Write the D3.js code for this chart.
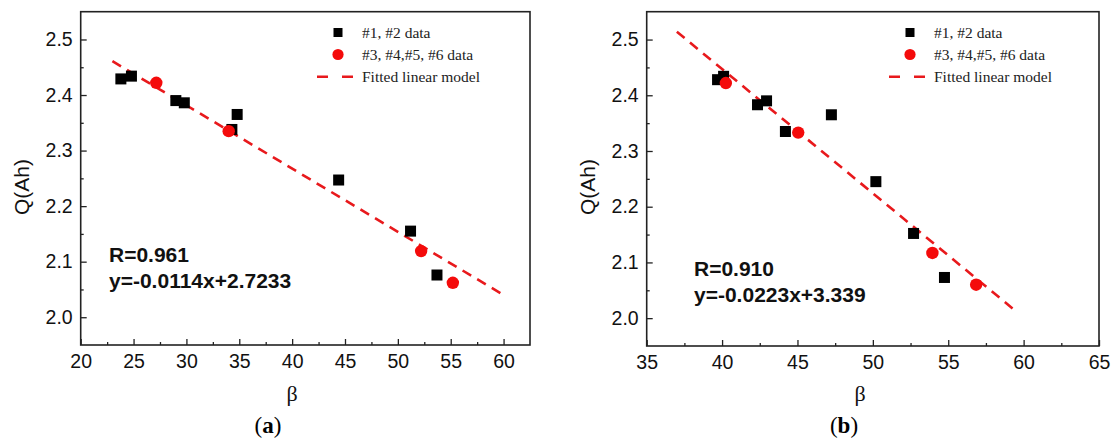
<!DOCTYPE html>
<html lang="en">
<head>
    <meta charset="UTF-8">
    <title>Q vs beta</title>
    <script src="https://cdnjs.cloudflare.com/ajax/libs/d3/7.8.5/d3.min.js"></script>
    <style>
        body { margin: 0; background: white; }
        svg { display: block; }
        .tick text { font-family: "Liberation Sans", Arial, sans-serif; font-size: 19.5px; fill: #111; }
        .tick line { stroke: #222; stroke-width: 1.3px; }
        .frame { fill: none; stroke: #222; stroke-width: 1.6px; }
        .legend text { font-family: "Liberation Serif", "Times New Roman", serif; font-size: 15.5px; fill: #222; }
        .fit { fill: none; stroke: #e8191c; stroke-width: 2.6px; stroke-dasharray: 10,7; }
    </style>
</head>
<body>
    <svg id="chart" width="1115" height="439"></svg>

    <script>
        // panel (a)
        const blackA_x = [23.8, 24.8, 29.0, 29.8, 34.3, 34.8, 44.4, 51.2, 53.7];
        const blackA_y = [2.429, 2.434, 2.390, 2.386, 2.338, 2.365, 2.247, 2.155, 2.076];
        const redA_x = [27.15, 34.0, 52.2, 55.2];
        const redA_y = [2.422, 2.335, 2.119, 2.062];
        const fitA_x = [23, 60];
        const fitA_y = [2.461, 2.040];

        // panel (b)
        const blackB_x = [39.7, 40.1, 42.35, 42.95, 44.2, 47.25, 50.2, 52.7, 54.75];
        const blackB_y = [2.428, 2.434, 2.383, 2.390, 2.335, 2.365, 2.245, 2.152, 2.073];
        const redB_x = [40.25, 45.05, 53.95, 56.85];
        const redB_y = [2.422, 2.333, 2.117, 2.060];
        const fitB_x = [37, 59.6];
        const fitB_y = [2.514, 2.010];

        const xTicksA = [20, 25, 30, 35, 40, 45, 50, 55, 60];
        const xTicksB = [35, 40, 45, 50, 55, 60, 65];
        const yTicks = [2.0, 2.1, 2.2, 2.3, 2.4, 2.5];
        const legendLabels = ["#1, #2 data", "#3, #4,#5, #6 data", "Fitted linear model"];

        const svg = d3.select("#chart");

        function zip(xs, ys) {
            return xs.map((x, i) => [x, ys[i]]);
        }

        function drawPanel(p) {
            const x = d3.scaleLinear().domain(p.xDomain).range([p.left, p.right]);
            const y = d3.scaleLinear().domain([1.95, 2.55]).range([p.bottom, p.top]);
            const g = svg.append("g");

            // minor ticks first
            const xMinor = p.xTicks.slice(0, -1).map(v => v + 2.5).filter(v => v < p.xDomain[1]);
            const yMinor = yTicks.slice(0, -1).map(v => v + 0.05);

            g.append("g")
                .attr("transform", `translate(0,${p.bottom})`)
                .call(d3.axisBottom(x).tickValues(xMinor).tickSize(-3).tickFormat(""))
                .call(a => a.select(".domain").remove());
            g.append("g")
                .attr("transform", `translate(${p.left},0)`)
                .call(d3.axisLeft(y).tickValues(yMinor).tickSize(-3).tickFormat(""))
                .call(a => a.select(".domain").remove());

            g.append("g")
                .attr("transform", `translate(0,${p.bottom})`)
                .call(d3.axisBottom(x).tickValues(p.xTicks).tickSize(-6).tickPadding(9).tickFormat(d3.format("d")))
                .call(a => a.select(".domain").remove());
            g.append("g")
                .attr("transform", `translate(${p.left},0)`)
                .call(d3.axisLeft(y).tickValues(yTicks).tickSize(-6).tickPadding(8).tickFormat(d3.format(".1f")))
                .call(a => a.select(".domain").remove());

            g.append("rect")
                .attr("class", "frame")
                .attr("x", p.left).attr("y", p.top)
                .attr("width", p.right - p.left).attr("height", p.bottom - p.top);

            // fitted line
            g.append("path")
                .attr("class", "fit")
                .attr("d", d3.line().x(d => x(d[0])).y(d => y(d[1]))(zip(p.fitX, p.fitY)));

            // black squares
            const s = 11;
            g.selectAll(".sq")
                .data(zip(p.blackX, p.blackY))
                .enter()
                .append("rect")
                .attr("x", d => x(d[0]) - s / 2)
                .attr("y", d => y(d[1]) - s / 2)
                .attr("width", s).attr("height", s)
                .attr("fill", "#000");

            // red circles
            g.selectAll(".dot")
                .data(zip(p.redX, p.redY))
                .enter()
                .append("circle")
                .attr("cx", d => x(d[0]))
                .attr("cy", d => y(d[1]))
                .attr("r", 6.2)
                .attr("fill", "#f40b0b");

            // legend
            const lg = g.append("g").attr("class", "legend")
                .attr("transform", `translate(${p.legX},0)`);
            lg.append("rect").attr("x", -4.5).attr("y", 28).attr("width", 9).attr("height", 9).attr("fill", "#000");
            lg.append("circle").attr("cx", 0).attr("cy", 54.5).attr("r", 5.6).attr("fill", "#f40b0b");
            lg.append("line").attr("class", "fit")
                .attr("x1", -21).attr("x2", 16).attr("y1", 76.7).attr("y2", 76.7)
                .style("stroke-dasharray", "11,14");
            legendLabels.forEach((t, i) => {
                lg.append("text").attr("x", 24).attr("y", 37.5 + i * 22.3).text(t);
            });

            // annotation
            const ann = g.append("text")
                .attr("font-family", "'Liberation Sans', Arial, sans-serif")
                .attr("font-size", 21)
                .attr("font-weight", "bold")
                .attr("fill", "#111");
            ann.append("tspan").attr("x", p.annX).attr("y", p.annY).text(p.rText);
            ann.append("tspan").attr("x", p.annX).attr("y", p.annY + 26).text(p.eqText);

            // axis titles
            g.append("text")
                .attr("transform", `translate(${p.yTitleX},187) rotate(-90)`)
                .attr("text-anchor", "middle")
                .attr("dy", "0.35em")
                .attr("font-family", "'Liberation Sans', Arial, sans-serif")
                .attr("font-size", 21)
                .attr("fill", "#111")
                .text("Q(Ah)");

            g.append("text")
                .attr("x", p.betaX).attr("y", 401)
                .attr("text-anchor", "middle")
                .attr("font-family", "'Liberation Serif', 'Times New Roman', serif")
                .attr("font-size", 22)
                .attr("fill", "#111")
                .text("β");

            const cap = g.append("text")
                .attr("x", p.capX).attr("y", 433)
                .attr("text-anchor", "middle")
                .attr("font-family", "'Liberation Serif', 'Times New Roman', serif")
                .attr("font-size", 23)
                .attr("fill", "#000");
            cap.append("tspan").text("(");
            cap.append("tspan").attr("font-weight", "bold").text(p.capLetter);
            cap.append("tspan").text(")");
        }

        drawPanel({
            left: 80.7, right: 530, top: 11.7, bottom: 345,
            xDomain: [20, 62.5], xTicks: xTicksA,
            blackX: blackA_x, blackY: blackA_y, redX: redA_x, redY: redA_y,
            fitX: fitA_x, fitY: fitA_y,
            legX: 338, annX: 109, annY: 262,
            rText: "R=0.961", eqText: "y=-0.0114x+2.7233",
            yTitleX: 22, betaX: 292, capX: 268, capLetter: "a"
        });

        drawPanel({
            left: 646.7, right: 1099, top: 11.7, bottom: 346,
            xDomain: [35, 65], xTicks: xTicksB,
            blackX: blackB_x, blackY: blackB_y, redX: redB_x, redY: redB_y,
            fitX: fitB_x, fitY: fitB_y,
            legX: 910, annX: 694, annY: 276,
            rText: "R=0.910", eqText: "y=-0.0223x+3.339",
            yTitleX: 588, betaX: 860, capX: 844, capLetter: "b"
        });
    </script>
</body>
</html>
